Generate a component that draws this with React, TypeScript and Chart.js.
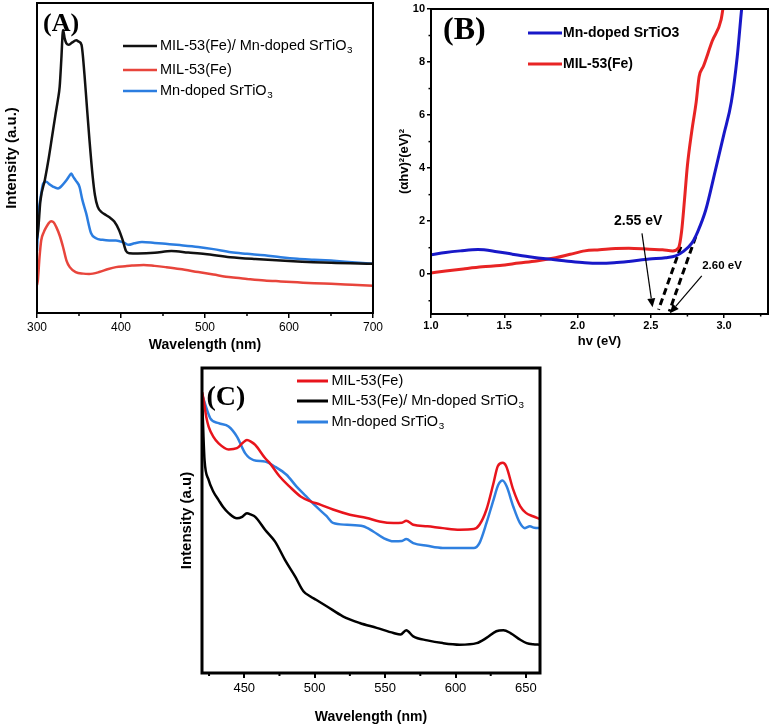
import React, { useEffect, useRef } from 'react';
import { Chart, registerables } from 'chart.js';
Chart.register(...registerables);

const SANS = '"Liberation Sans", Arial, Helvetica, sans-serif';
const SERIF = '"Liberation Serif", "Times New Roman", Times, serif';

// ---------------- Panel A ----------------
const aTicksX = [300, 400, 500, 600, 700];
const aMinorX = [350, 450, 550, 650];
const aLabels = ['MIL-53(Fe)/ Mn-doped SrTiO₃', 'MIL-53(Fe)', 'Mn-doped SrTiO₃'];
const aBlackX = [300, 301.5, 304, 309.4, 314, 318, 322, 325, 327, 329, 331, 333, 335, 338, 342, 346.7, 350, 353, 356.5, 359, 362.4, 366.3, 369, 372.2, 377, 382, 388, 392, 397.6, 402, 406, 410, 420, 440, 460, 480, 500, 530, 560, 600, 650, 700];
const aBlackY = [24, 27, 36, 43, 50, 57, 64, 69, 73, 82, 91.3, 88.5, 87, 86.5, 87.3, 88, 87.5, 86.5, 77, 68, 56, 44, 38, 34.3, 32.5, 31.6, 30.5, 29.5, 26.8, 23.5, 20, 19.3, 19.2, 19.4, 20, 19.5, 19, 18, 17.4, 16.8, 16.2, 15.9];
const aRedX = [300, 301, 303, 305, 308, 311, 314, 317, 320, 323, 327, 331, 335, 339, 346, 355, 362, 374, 385, 394, 405, 413, 427, 440, 453, 470, 492, 510, 531, 550, 571, 590, 610, 630, 650, 675, 700];
const aRedY = [9, 10.5, 18, 23.4, 26, 27.7, 29, 29.6, 29.2, 27.7, 25, 21.3, 17, 14.8, 13.2, 12.7, 12.6, 13.2, 14.2, 14.8, 15.1, 15.3, 15.5, 15.2, 14.8, 14.2, 13.2, 12.4, 11.5, 11, 10.5, 10.2, 9.9, 9.6, 9.4, 9.1, 8.8];
const aBlueX = [300, 302, 305, 307.4, 311, 315, 319, 325, 331, 335, 338, 340.8, 343, 346, 350.6, 354, 358.5, 364.4, 370.2, 378, 386, 394, 404, 409, 416, 425, 440, 453, 470, 492, 510, 531, 550, 571, 590, 610, 630, 650, 675, 700];
const aBlueY = [20, 32, 38.5, 41.8, 42.3, 41.5, 40.8, 40.2, 41.5, 42.8, 44, 45, 44, 42.8, 40.7, 36.5, 32.2, 25.7, 24.1, 23.6, 23.4, 23.4, 22.6, 22, 22.5, 22.9, 22.6, 22.3, 21.9, 21.3, 20.6, 19.6, 19.1, 18.6, 18, 17.5, 17.2, 16.9, 16.4, 15.9];

// ---------------- Panel B ----------------
const bTicksX = [1.0, 1.5, 2.0, 2.5, 3.0];
const bMinorX = [1.25, 1.75, 2.25, 2.75, 3.25];
const bTicksY = [0, 2, 4, 6, 8, 10];
const bMinorY = [-1, 1, 3, 5, 7, 9];
const bLabels = ['Mn-doped SrTiO3', 'MIL-53(Fe)'];
const bBlueX = [1.0, 1.1, 1.2, 1.32, 1.45, 1.55, 1.67, 1.8, 1.92, 2.05, 2.15, 2.25, 2.35, 2.49, 2.6, 2.67, 2.72, 2.78, 2.82, 2.875, 2.94, 3.0, 3.05, 3.09, 3.12, 3.14];
const bBlueY = [0.73, 0.82, 0.88, 0.93, 0.85, 0.76, 0.66, 0.57, 0.5, 0.43, 0.41, 0.43, 0.48, 0.57, 0.62, 0.69, 0.85, 1.17, 1.6, 2.42, 3.9, 5.3, 6.5, 8.2, 10, 11];
const bRedX = [1.0, 1.1, 1.22, 1.35, 1.47, 1.6, 1.72, 1.85, 1.95, 2.05, 2.15, 2.26, 2.35, 2.49, 2.58, 2.65, 2.69, 2.71, 2.73, 2.75, 2.78, 2.81, 2.83, 2.86, 2.92, 2.98, 3.0];
const bRedY = [0.05, 0.12, 0.2, 0.28, 0.33, 0.42, 0.5, 0.62, 0.75, 0.88, 0.92, 0.97, 0.98, 0.94, 0.92, 0.88, 1.0, 1.6, 2.8, 4.1, 5.4, 6.5, 7.45, 7.85, 8.8, 9.6, 10.3];
const bFit1X = [2.705, 2.553];
const bFit1Y = [1.04, -1.34];
const bFit2X = [2.807, 2.626];
const bFit2Y = [1.42, -1.41];
const bNoteText = ['2.55 eV', '2.60 eV'];
const bNoteX = [2.414, 2.986];
const bNoteY = [2.01, 0.31];
const bNoteSize = [14, 11.5];
const bArrowFromX = [2.44, 2.848];
const bArrowFromY = [1.54, -0.06];
const bArrowToX = [2.512, 2.63];
const bArrowToY = [-1.25, -1.47];

// ---------------- Panel C ----------------
const cTicksX = [450, 500, 550, 600, 650];
const cMinorX = [425, 475, 525, 575, 625];
const cLabels = ['MIL-53(Fe)', 'MIL-53(Fe)/ Mn-doped SrTiO₃', 'Mn-doped SrTiO₃'];
const cRedX = [420, 421, 423, 424.7, 428, 431.8, 438.9, 444.8, 449, 451.9, 455, 457.8, 464.9, 468, 475, 482, 490, 497, 504, 513, 525, 537, 546, 556, 562, 565, 570, 580, 591, 603, 613, 617, 622, 627, 630, 633.5, 636, 641, 646, 650, 655, 660];
const cRedY = [92, 90, 84, 80.8, 77.5, 75.3, 73.3, 73.7, 75.5, 76.4, 75.8, 74.8, 70.4, 68.9, 64.5, 61.2, 57.9, 56.3, 55.2, 53.6, 51.9, 50.8, 49.7, 49.2, 49.3, 49.9, 48.6, 48.1, 47.5, 47, 47.2, 48.6, 53.6, 62.3, 67.8, 68.9, 67.8, 60.1, 54.6, 52.5, 51.4, 50.5];
const cBlackX = [420, 421, 421.8, 424.7, 428, 431.8, 435, 438.9, 444.8, 448.5, 451.9, 454.5, 457.8, 464.9, 472, 479, 486.2, 492, 497, 501, 508.5, 520, 532, 544, 556, 561, 565, 570, 580, 591, 603, 615, 622, 629, 634, 639, 646, 650.5, 655, 660];
const cBlackY = [92, 78, 69.8, 63.3, 59.5, 56.7, 54.4, 52.4, 50.7, 51.2, 52.4, 52, 51.2, 46.9, 43, 37, 31.6, 26.8, 25.1, 24, 21.9, 18.6, 16.4, 14.8, 13.1, 12.6, 14, 12, 10.7, 9.8, 9.3, 9.8, 11.5, 13.7, 14, 13.1, 10.9, 9.8, 9.4, 9.3];
const cBlueX = [420, 422, 425.9, 431.8, 438.9, 444.8, 450.7, 456.6, 464.9, 472, 480, 487, 494, 501, 508.5, 513, 523, 534.5, 541.6, 548.7, 556, 562, 565, 570, 580, 591, 603, 613, 617, 622, 627, 630.4, 633.4, 636.3, 641, 645.7, 649.3, 652.8, 656, 660];
const cBlueY = [91.5, 88.5, 83.5, 81.9, 80.8, 77.5, 72, 69.8, 69.3, 67.6, 65, 61.2, 57.9, 54.6, 51.4, 49.2, 48.6, 48.1, 46.4, 44.3, 43.2, 43.3, 43.9, 42.6, 41.7, 41, 41, 41, 42.6, 49.2, 56.8, 61.7, 63.1, 61.2, 54.6, 49.2, 47.5, 48.1, 47.6, 47.5];

const pts = (xs: number[], ys: number[]) => xs.map((x, i) => ({ x, y: ys[i] }));

function line(label: string, xs: number[], ys: number[], color: string, width: number, extra: any = {}) {
  return {
    label,
    data: pts(xs, ys),
    borderColor: color,
    backgroundColor: color,
    borderWidth: width,
    pointRadius: 0,
    fill: false,
    cubicInterpolationMode: 'monotone',
    ...extra,
  };
}

// draw text with trailing unicode subscript digits drawn as a smaller, lowered glyph
function drawLabel(ctx: CanvasRenderingContext2D, text: string, x: number, y: number, size: number, weight: string) {
  const m = text.match(/^(.*?)([₀-₉]+)$/);
  ctx.font = `${weight} ${size}px ${SANS}`;
  ctx.textBaseline = 'middle';
  ctx.textAlign = 'left';
  if (!m) { ctx.fillText(text, x, y); return; }
  const base = m[1];
  const sub = m[2].split('').map((c) => String(c.charCodeAt(0) - 0x2080)).join('');
  ctx.fillText(base, x, y);
  const w = ctx.measureText(base).width;
  ctx.font = `${weight} ${size * 0.68}px ${SANS}`;
  ctx.fillText(sub, x + w + 0.5, y + size * 0.3);
}

function decor(cfg: any) {
  return {
    id: 'decor',
    afterDraw(chart: any) {
      const { ctx, chartArea: a, scales } = chart;
      ctx.save();
      ctx.strokeStyle = '#000';
      ctx.lineWidth = cfg.tickWidth;
      (cfg.minorX || []).forEach((v: number) => {
        const px = scales.x.getPixelForValue(v);
        ctx.beginPath(); ctx.moveTo(px, a.bottom); ctx.lineTo(px, a.bottom + cfg.minorLen); ctx.stroke();
      });
      (cfg.minorY || []).forEach((v: number) => {
        const py = scales.y.getPixelForValue(v);
        ctx.beginPath(); ctx.moveTo(a.left - cfg.minorLen, py); ctx.lineTo(a.left, py); ctx.stroke();
      });
      ctx.lineWidth = cfg.frame;
      ctx.strokeRect(a.left, a.top, a.right - a.left, a.bottom - a.top);
      const lg = cfg.legend;
      lg.order.forEach((di: number, i: number) => {
        const ds = chart.data.datasets[di];
        const y = lg.rows[i];
        ctx.strokeStyle = ds.borderColor;
        ctx.lineWidth = lg.lineWidth;
        ctx.beginPath(); ctx.moveTo(lg.x1, y); ctx.lineTo(lg.x2, y); ctx.stroke();
        ctx.fillStyle = '#000';
        drawLabel(ctx, ds.label, lg.tx, y, lg.size, lg.weight);
      });
      ctx.fillStyle = '#000';
      ctx.font = `bold ${cfg.tag.size}px ${SERIF}`;
      ctx.textBaseline = 'alphabetic';
      ctx.textAlign = 'left';
      ctx.fillText(cfg.tag.text, cfg.tag.x, cfg.tag.y);
      ctx.restore();
    },
  };
}

const notesPlugin = {
  id: 'notes',
  afterDatasetsDraw(chart: any) {
    const { ctx, scales } = chart;
    const sx = scales.x, sy = scales.y;
    ctx.save();
    ctx.strokeStyle = '#000';
    ctx.fillStyle = '#000';
    ctx.lineWidth = 1.2;
    bArrowFromX.forEach((_, i) => {
      const x1 = sx.getPixelForValue(bArrowFromX[i]);
      const y1 = sy.getPixelForValue(bArrowFromY[i]);
      const x2 = sx.getPixelForValue(bArrowToX[i]);
      const y2 = sy.getPixelForValue(bArrowToY[i]);
      const ang = Math.atan2(y2 - y1, x2 - x1);
      const hl = 9, hw = 4;
      const bx = x2 - hl * Math.cos(ang), by = y2 - hl * Math.sin(ang);
      ctx.beginPath(); ctx.moveTo(x1, y1); ctx.lineTo(bx, by); ctx.stroke();
      ctx.beginPath();
      ctx.moveTo(x2, y2);
      ctx.lineTo(bx + hw * Math.sin(ang), by - hw * Math.cos(ang));
      ctx.lineTo(bx - hw * Math.sin(ang), by + hw * Math.cos(ang));
      ctx.closePath(); ctx.fill();
    });
    bNoteText.forEach((t, i) => {
      ctx.font = `bold ${bNoteSize[i]}px ${SANS}`;
      ctx.textAlign = 'center';
      ctx.textBaseline = 'middle';
      ctx.fillText(t, sx.getPixelForValue(bNoteX[i]), sy.getPixelForValue(bNoteY[i]));
    });
    ctx.restore();
  },
};

const common = {
  responsive: false,
  maintainAspectRatio: false,
  animation: false,
  events: [],
  plugins: { legend: { display: false }, tooltip: { enabled: false } },
};

function xAxis(o: any) {
  return {
    type: 'linear',
    min: o.min,
    max: o.max,
    afterBuildTicks: (s: any) => { s.ticks = o.ticks.map((value: number) => ({ value })); },
    afterFit: (s: any) => { s.height = o.height; },
    ticks: {
      autoSkip: false, maxRotation: 0, color: '#000', padding: o.pad,
      font: { family: SANS, size: o.fs, weight: o.fw },
      callback: o.fmt || ((v: number) => String(v)),
    },
    grid: { drawOnChartArea: false, drawTicks: true, tickLength: o.tl, color: '#000', lineWidth: o.tw },
    border: { display: false },
    title: {
      display: true, text: o.title, color: '#000',
      font: { family: SANS, size: o.tfs, weight: 'bold' },
      padding: { top: 0, bottom: o.tpad },
    },
  };
}

function configA(): any {
  return {
    type: 'line',
    data: {
      datasets: [
        line(aLabels[0], aBlackX, aBlackY, '#111111', 2.5),
        line(aLabels[1], aRedX, aRedY, '#e8453c', 2.5),
        line(aLabels[2], aBlueX, aBlueY, '#2b7de0', 2.5),
      ],
    },
    options: {
      ...common,
      layout: { padding: { top: 3, right: 9, left: 0, bottom: 0 } },
      scales: {
        x: xAxis({ min: 300, max: 700, ticks: aTicksX, height: 47, pad: 2, fs: 12, fw: 'normal', tl: 5, tw: 1.5, title: 'Wavelength (nm)', tfs: 14, tpad: 6.6 }),
        y: {
          type: 'linear', min: 0, max: 100,
          afterFit: (s: any) => { s.width = 37; },
          ticks: { display: false }, grid: { display: false }, border: { display: false },
          title: { display: true, text: 'Intensity (a.u.)', color: '#000', font: { family: SANS, size: 15, weight: 'bold' }, padding: { top: 3, bottom: 0 } },
        },
      },
    },
    plugins: [decor({
      frame: 2, tickWidth: 1.5, minorLen: 3, minorX: aMinorX,
      legend: { order: [0, 1, 2], rows: [46, 70, 91], x1: 123, x2: 157, tx: 160, size: 14.5, weight: 'normal', lineWidth: 2.5 },
      tag: { text: '(A)', size: 26, x: 43, y: 31 },
    })],
  };
}

function configB(): any {
  return {
    type: 'line',
    data: {
      datasets: [
        line(bLabels[0], bBlueX, bBlueY, '#1818c8', 3),
        line(bLabels[1], bRedX, bRedY, '#e82424', 3),
        line('', bFit1X, bFit1Y, '#000000', 3, { borderDash: [7, 4], cubicInterpolationMode: 'default', tension: 0 }),
        line('', bFit2X, bFit2Y, '#000000', 3, { borderDash: [7, 4], cubicInterpolationMode: 'default', tension: 0 }),
      ],
    },
    options: {
      ...common,
      layout: { padding: { top: 9, right: 3, left: 0, bottom: 0 } },
      scales: {
        x: xAxis({ min: 1, max: 3.3, ticks: bTicksX, height: 46, pad: 1, fs: 11, fw: 'bold', tl: 4, tw: 1.5, title: 'hv (eV)', tfs: 13, tpad: 11, fmt: (v: number) => v.toFixed(1) }),
        y: {
          type: 'linear', min: -1.5, max: 10,
          afterBuildTicks: (s: any) => { s.ticks = bTicksY.map((value) => ({ value })); },
          afterFit: (s: any) => { s.width = 46; },
          ticks: { color: '#000', padding: 2, font: { family: SANS, size: 11, weight: 'bold' } },
          grid: { drawOnChartArea: false, drawTicks: true, tickLength: 4, color: '#000', lineWidth: 1.5 },
          border: { display: false },
          title: { display: true, text: '(αhv)²(eV)²', color: '#000', font: { family: SANS, size: 13, weight: 'bold' }, padding: { top: 12, bottom: 0 } },
        },
      },
    },
    plugins: [notesPlugin, decor({
      frame: 2, tickWidth: 1.5, minorLen: 2.5, minorX: bMinorX, minorY: bMinorY,
      legend: { order: [0, 1], rows: [33, 64], x1: 143, x2: 177, tx: 178, size: 14, weight: 'bold', lineWidth: 3 },
      tag: { text: '(B)', size: 32, x: 58, y: 39 },
    })],
  };
}

function configC(): any {
  return {
    type: 'line',
    data: {
      datasets: [
        line(cLabels[0], cRedX, cRedY, '#e8141c', 2.5),
        line(cLabels[1], cBlackX, cBlackY, '#000000', 2.5),
        line(cLabels[2], cBlueX, cBlueY, '#2f80e0', 2.5),
      ],
    },
    options: {
      ...common,
      layout: { padding: { top: 13, right: 20, left: 0, bottom: 0 } },
      scales: {
        x: xAxis({ min: 420, max: 660, ticks: cTicksX, height: 55, pad: 3, fs: 13, fw: 'normal', tl: 5, tw: 2, title: 'Wavelength (nm)', tfs: 14, tpad: 2.6 }),
        y: {
          type: 'linear', min: 0, max: 100,
          afterFit: (s: any) => { s.width = 42; },
          ticks: { display: false }, grid: { display: false }, border: { display: false },
          title: { display: true, text: 'Intensity (a.u)', color: '#000', font: { family: SANS, size: 15, weight: 'bold' }, padding: { top: 18, bottom: 0 } },
        },
      },
    },
    plugins: [decor({
      frame: 3, tickWidth: 2, minorLen: 3, minorX: cMinorX,
      legend: { order: [0, 1, 2], rows: [26, 46, 67], x1: 137, x2: 168, tx: 171.5, size: 14.5, weight: 'normal', lineWidth: 3 },
      tag: { text: '(C)', size: 28, x: 46.5, y: 50 },
    })],
  };
}

export default function App() {
  const refA = useRef<HTMLCanvasElement>(null);
  const refB = useRef<HTMLCanvasElement>(null);
  const refC = useRef<HTMLCanvasElement>(null);
  useEffect(() => {
    const charts = [
      new Chart(refA.current!, configA()),
      new Chart(refB.current!, configB()),
      new Chart(refC.current!, configC()),
    ];
    return () => charts.forEach((c) => c.destroy());
  }, []);
  const abs = (l: number, t: number, w: number, h: number): React.CSSProperties => ({ position: 'absolute', left: l, top: t, width: w, height: h });
  return (
    <div style={{ position: 'absolute', left: 0, top: 0, width: 771, height: 728, background: '#ffffff' }}>
      <canvas ref={refA} width={385} height={360} style={abs(0, 0, 385, 360)} />
      <canvas ref={refB} width={386} height={360} style={abs(385, 0, 386, 360)} />
      <canvas ref={refC} width={400} height={373} style={abs(160, 355, 400, 373)} />
    </div>
  );
}
